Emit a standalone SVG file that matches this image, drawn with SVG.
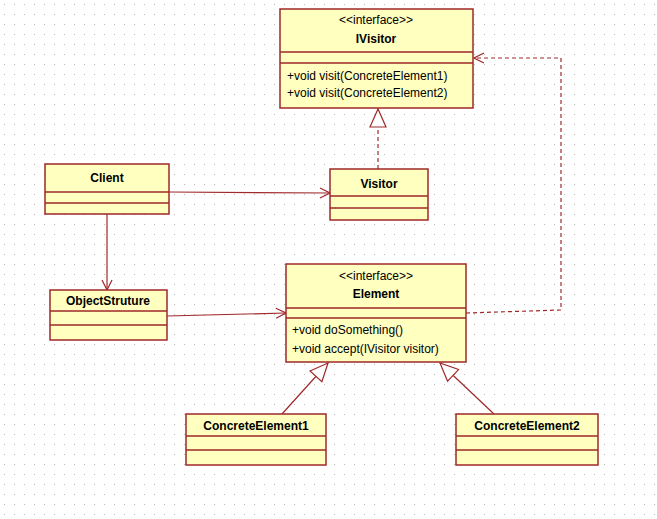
<svg xmlns="http://www.w3.org/2000/svg" width="657" height="519" viewBox="0 0 657 519">
<style>
.b{fill:#ffffc0;stroke:#a0282a;stroke-width:1.5}
.l{stroke:#a0282a;stroke-width:1.5;fill:none}
.c{stroke:#a0282a;stroke-width:1.2;fill:none}
.d{stroke-dasharray:4,3}
.t{font-family:"Liberation Sans",Arial,sans-serif;font-size:12px;fill:#000}
.n{font-weight:bold;text-anchor:middle}
.m{text-anchor:middle}
</style>
<defs>
<pattern id="g" width="10" height="10" patternUnits="userSpaceOnUse"><rect x="4" y="4" width="1" height="1" fill="#b8b8b8"/></pattern>
<marker id="o" markerWidth="12" markerHeight="12" refX="11" refY="6" orient="auto" markerUnits="userSpaceOnUse"><path d="M1,1 L11,6 L1,11" fill="none" stroke="#a0282a" stroke-width="1.2"/></marker>
<marker id="tri" markerWidth="20" markerHeight="20" refX="19" refY="10" orient="auto" markerUnits="userSpaceOnUse"><path d="M1,2 L19,10 L1,18 Z" fill="#fff" stroke="#a0282a" stroke-width="1.2"/></marker>
</defs>
<rect width="657" height="519" fill="#fff"/>
<rect width="657" height="519" fill="url(#g)"/>
<g id="connectors">
<path class="c" d="M169,192 L330,193" marker-end="url(#o)"/>
<path class="c" d="M107,214 L107,290" marker-end="url(#o)"/>
<path class="c" d="M167,316 L286,313" marker-end="url(#o)"/>
<path class="c d" d="M378,169 L378,109" marker-end="url(#tri)"/>
<path class="c d" d="M466,313 L561,310 L561,58 L474,58" marker-end="url(#o)"/>
<path class="c" d="M282,414 L328,363" marker-end="url(#tri)"/>
<path class="c" d="M494,414 L440,363" marker-end="url(#tri)"/>
</g>
<g id="IVisitor">
<rect class="b" x="280" y="9" width="193" height="99"/>
<path class="l" d="M280,52H473M280,63H473"/>
<text class="t m" x="376" y="24">&lt;&lt;interface&gt;&gt;</text>
<text class="t n" x="376" y="43">IVisitor</text>
<text class="t" x="287" y="80">+void visit(ConcreteElement1)</text>
<text class="t" x="287" y="97">+void visit(ConcreteElement2)</text>
</g>
<g id="Visitor">
<rect class="b" x="330" y="169" width="98" height="51"/>
<path class="l" d="M330,196H428M330,208H428"/>
<text class="t n" x="379" y="188">Visitor</text>
</g>
<g id="Client">
<rect class="b" x="45" y="164" width="124" height="50"/>
<path class="l" d="M45,192H169M45,203H169"/>
<text class="t n" x="107" y="182">Client</text>
</g>
<g id="ObjectStruture">
<rect class="b" x="50" y="290" width="117" height="50"/>
<path class="l" d="M50,311H167M50,325H167"/>
<text class="t n" x="108" y="305">ObjectStruture</text>
</g>
<g id="Element">
<rect class="b" x="286" y="264" width="180" height="98"/>
<path class="l" d="M286,308H466M286,318H466"/>
<text class="t m" x="376" y="280">&lt;&lt;interface&gt;&gt;</text>
<text class="t n" x="376" y="298">Element</text>
<text class="t" x="292" y="334">+void doSomething()</text>
<text class="t" x="292" y="353">+void accept(IVisitor visitor)</text>
</g>
<g id="ConcreteElement1">
<rect class="b" x="186" y="414" width="140" height="51"/>
<path class="l" d="M186,436H326M186,450H326"/>
<text class="t n" x="256" y="430">ConcreteElement1</text>
</g>
<g id="ConcreteElement2">
<rect class="b" x="456" y="414" width="142" height="51"/>
<path class="l" d="M456,436H598M456,450H598"/>
<text class="t n" x="527" y="430">ConcreteElement2</text>
</g>
</svg>
